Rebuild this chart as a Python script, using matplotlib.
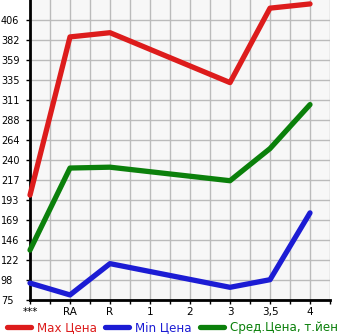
import numpy as np
import matplotlib
matplotlib.use("Agg")
import matplotlib.pyplot as plt
from matplotlib.lines import Line2D

categories = ['***', 'RA', 'R', '1', '2', '3', '3,5', '4']
max_price = [199, 386, 391, None, None, 332, 420, 425]
min_price = [95, 81, 118, None, None, 90, 99, 178]
avg_price = [134, 231, 232, None, None, 216, 254, 306]
ytick_labels = ['75', '98', '122', '146', '169', '193', '217', '240', '264',
                '288', '311', '335', '359', '382', '406']
series_names = ['Max Цена', 'Min Цена', 'Сред.Цена, т.йен']
colors = ['#dd1c1c', '#1c1cd4', '#0b800b']

W, H = 345, 335
fig = plt.figure(figsize=(W / 100, H / 100), dpi=100)
ax = fig.add_axes([30 / W, 35 / H, 300 / W, 300 / H])
ax.set_facecolor('#f7f7f7')

ymin = 75.0
ystep = (406 - 75) / 14
ax.set_ylim(ymin, ymin + 15 * ystep)
ax.set_xlim(0, 7.5)

ax.set_yticks([ymin + i * ystep for i in range(15)])
ax.set_yticklabels(ytick_labels, fontsize=7, ha='left')
ax.set_xticks(range(len(categories)))
ax.set_xticklabels(categories, fontsize=7.5)
ax.set_xticks(np.arange(0.5, 7.6, 1.0), minor=True)
ax.tick_params(axis='both', which='both', length=3, width=1, color='black', pad=2)
ax.tick_params(axis='y', pad=18)

ax.grid(True, which='both', color='#bbbbbb', linewidth=1)
ax.set_axisbelow(True)
for s in ['top', 'right']:
    ax.spines[s].set_visible(False)
for s in ['left', 'bottom']:
    ax.spines[s].set_linewidth(2)
    ax.spines[s].set_color('black')

for vals, col in zip([max_price, min_price, avg_price], colors):
    xs = [i for i, v in enumerate(vals) if v is not None]
    ys = [v for v in vals if v is not None]
    ax.plot(xs, ys, color=col, linewidth=3.8, solid_capstyle='round',
            solid_joinstyle='round', clip_on=False, zorder=3)

handles = [Line2D([0], [0], color=c, linewidth=3.8, solid_capstyle='round') for c in colors]
leg = fig.legend(handles, series_names, loc='lower center', bbox_to_anchor=(0.5, -0.012),
                 ncol=3, frameon=False, fontsize=8.6, handlelength=2.0,
                 handletextpad=0.5, columnspacing=0.7, borderaxespad=0)
for t, c in zip(leg.get_texts(), colors):
    t.set_color(c)

fig.savefig('out.png', dpi=100)
